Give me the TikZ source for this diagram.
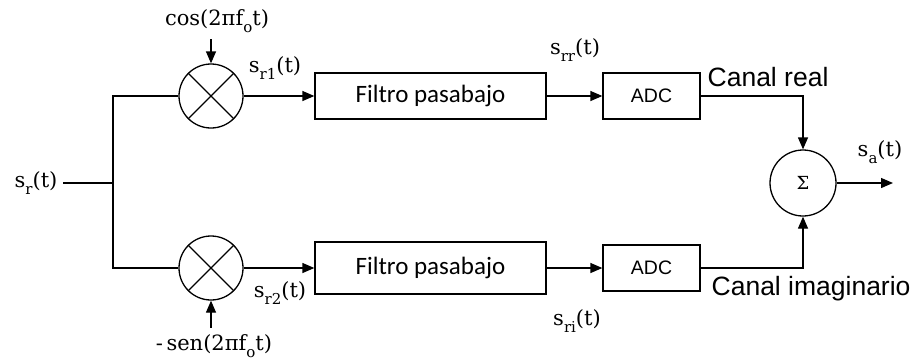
\documentclass[tikz,border=0pt]{standalone}
\usepackage{fontspec}
\setmainfont{DejaVu Serif}
\newfontfamily\arialfont{Liberation Sans}
\newfontfamily\calibrifont{Carlito}
\usetikzlibrary{arrows.meta}
\newcommand\mysig[2]{#1\raisebox{-0.32em}{\fontsize{15}{15}\selectfont #2}}
\begin{document}
\begin{tikzpicture}[x=1pt,y=-1pt,line width=1.3pt,
  arr/.style={-{Triangle[length=12pt,width=10pt]}},
  mix/.style={draw,circle,minimum size=64pt,inner sep=0pt},
  blk/.style={draw,rectangle,inner sep=0pt},
  filt/.style={blk,minimum width=231pt,font=\calibrifont\fontsize{25}{27}\selectfont},
  adc/.style={blk,minimum width=97pt,minimum height=46pt,font=\arialfont\fontsize{19.5}{21}\selectfont},
  lbl/.style={inner sep=0pt,font=\fontsize{21}{23}\selectfont},
  chan/.style={inner sep=0pt,anchor=west,font=\arialfont\fontsize{26.5}{28}\selectfont}]
\useasboundingbox (0,0) rectangle (917,360);
% input
\node[lbl] (inp) at (36,183) {\mysig{s}{r}(t)};
\coordinate (split) at (113,183);
% mixers
\node[mix] (mixA) at (211,96) {};
\node[mix] (mixB) at (211,268) {};
\draw (mixA.north east) -- (mixA.south west);
\draw (mixA.north west) -- (mixA.south east);
\draw (mixB.north east) -- (mixB.south west);
\draw (mixB.north west) -- (mixB.south east);
\node[lbl] (cosl) at (217,21) {cos(2π\mysig{f}{o}t)};
\node[lbl] (senl) at (214,346) {-\,sen(2π\mysig{f}{o}t)};
% filters and ADCs
\node[filt,minimum height=46pt] (filtA) at (430.5,96) {Filtro pasabajo};
\node[filt,minimum height=52pt] (filtB) at (430.5,268) {Filtro pasabajo};
\node[adc] (adcA) at (651.5,96) {ADC};
\node[adc] (adcB) at (651.5,268) {ADC};
% sum
\node[draw,circle,minimum size=66pt,inner sep=0pt,font=\fontsize{18}{18}\selectfont] (sum) at (803,183) {Σ};
\coordinate (out) at (893,183);
% labels
\node[lbl] (l1) at (275,68) {\mysig{s}{r1}(t)};
\node[lbl] (l2) at (280,293) {\mysig{s}{r2}(t)};
\node[lbl] (lrr) at (575,50) {\mysig{s}{rr}(t)};
\node[lbl] (lri) at (577,321) {\mysig{s}{ri}(t)};
\node[lbl] (la) at (880,152) {\mysig{s}{a}(t)};
\node[chan] (cr) at (707,77) {Canal real};
\node[chan] (ci) at (711,289) {Canal imaginario};
% connectors
\draw (inp.east) ++(5,0) -- (split);
\draw (mixA.west) -| (split) |- (mixB.west);
\draw[arr] (mixA.north |- cosl.south) ++(0,6) -- (mixA.north);
\draw[arr] (mixB.south |- senl.north) ++(0,-6) -- (mixB.south);
\draw[arr] (mixA.east) -- (filtA.west);
\draw[arr] (mixB.east) -- (filtB.west);
\draw[arr] (filtA.east) -- (adcA.west);
\draw[arr] (filtB.east) -- (adcB.west);
\draw[arr] (adcA.east) -| (sum.north);
\draw[arr] (adcB.east) -| (sum.south);
\draw[arr] (sum.east) -- (out);
\end{tikzpicture}
\end{document}
